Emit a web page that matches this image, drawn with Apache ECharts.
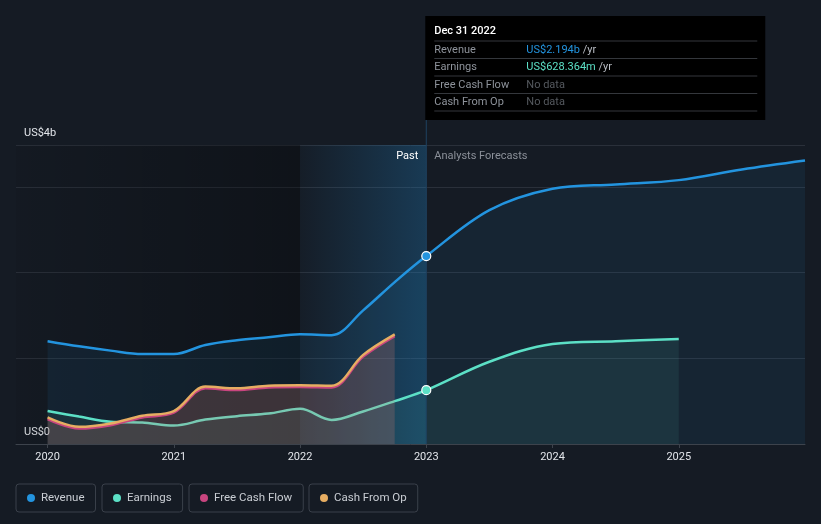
<!DOCTYPE html>
<html><head><meta charset="utf-8">
<script src="https://cdn.jsdelivr.net/npm/echarts@6/dist/echarts.min.js"></script>
<style>html,body{margin:0;padding:0;background:#151b24;}#c{width:821px;height:524px;}</style>
</head><body><div id="c"></div>
<script>
// ---- data (values in US$ billions, x in fractional years) ----
const pastYears = [2020, 2020.25, 2020.5, 2020.75, 2021, 2021.25, 2021.5, 2021.75, 2022, 2022.25, 2022.5, 2022.75, 2023];
const revenuePast = [1.20, 1.14, 1.09, 1.05, 1.05, 1.155, 1.21, 1.245, 1.28, 1.27, 1.56, 1.89, 2.194];
const earningsPast = [0.385, 0.32, 0.26, 0.25, 0.215, 0.285, 0.325, 0.355, 0.41, 0.28, 0.38, 0.50, 0.628];
const cashYears = [2020, 2020.25, 2020.5, 2020.75, 2021, 2021.25, 2021.5, 2021.75, 2022, 2022.25, 2022.5, 2022.75];
const cashFromOp = [0.31, 0.20, 0.24, 0.33, 0.385, 0.67, 0.65, 0.68, 0.685, 0.68, 1.04, 1.28];
const freeCashFlow = [0.29, 0.18, 0.22, 0.31, 0.365, 0.65, 0.63, 0.66, 0.665, 0.66, 1.02, 1.26];
const revForecastYears = [2023.5, 2024, 2024.5, 2025, 2025.5, 2026];
const revenueForecast = [2.73, 2.98, 3.03, 3.08, 3.205, 3.31];
const earnForecastYears = [2023.5, 2024, 2024.5, 2025];
const earningsForecast = [0.96, 1.167, 1.20, 1.225];
const xTickYears = [2020, 2021, 2022, 2023, 2024, 2025];
const nowYear = 2023;
const pastStart = 2022;
const xMin = 2019.75, xMax = 2026;
const yMax = 3.49;
const yTopLabel = 'US$4b', yZeroLabel = 'US$0';
const legendNames = ['Revenue', 'Earnings', 'Free Cash Flow', 'Cash From Op'];
const tooltipTitle = 'Dec 31 2022';
const tooltipRows = [
  ['Revenue', 'US$2.194b', ' /yr'],
  ['Earnings', 'US$628.364m', ' /yr'],
  ['Free Cash Flow', 'No data', ''],
  ['Cash From Op', 'No data', '']
];

const C = { rev: '#2394df', earn: '#5ce0c6', fcf: '#c8457f', cfo: '#e6ad62' };
const zip = (xs, ys) => xs.map((x, i) => [x, ys[i]]);
const revenueData = zip(pastYears, revenuePast).concat(zip(revForecastYears, revenueForecast));
const earningsData = zip(pastYears, earningsPast).concat(zip(earnForecastYears, earningsForecast));
const nowIdx = pastYears.indexOf(nowYear);

const chart = echarts.init(document.getElementById('c'), null, { renderer: 'canvas' });
const font = 'Roboto, "Noto Sans", sans-serif';

function legendBox(name, left) {
  return {
    data: [name], left: left, top: 484, orient: 'horizontal',
    icon: 'circle', itemWidth: 8, itemHeight: 8, itemGap: 0,
    padding: [8, 11, 8, 11], borderColor: '#3a404a', borderWidth: 1, borderRadius: 3,
    textStyle: { color: '#c9cdd3', fontSize: 11.5, fontFamily: font, lineHeight: 11, padding: [0, 0, 0, 1] },
    selectedMode: false
  };
}

const option = {
  backgroundColor: '#151b24',
  animation: false,
  textStyle: { fontFamily: font },
  grid: { left: 16, right: 16, top: 145, bottom: 80, containLabel: false },
  legend: [
    legendBox(legendNames[0], 16),
    legendBox(legendNames[1], 102),
    legendBox(legendNames[2], 189),
    legendBox(legendNames[3], 309)
  ],
  xAxis: {
    type: 'value', min: xMin, max: xMax,
    axisLine: { show: true, lineStyle: { color: '#3d434c', width: 1 } },
    axisTick: { show: true, length: 4, lineStyle: { color: '#3d434c' }, customValues: xTickYears },
    axisLabel: { color: '#e2e5ea', fontSize: 11, margin: 8, customValues: xTickYears, formatter: v => String(Math.round(v)) },
    splitLine: { show: false }
  },
  yAxis: {
    type: 'value', min: 0, max: yMax, interval: 1,
    axisLine: { show: false }, axisTick: { show: false },
    splitLine: { show: true, lineStyle: { color: '#2a303a', width: 1 } },
    axisLabel: {
      inside: true, showMaxLabel: true, showMinLabel: true, margin: 8,
      color: '#e2e5ea', fontSize: 11, verticalAlign: 'bottom', padding: [0, 0, 6, 0],
      formatter: v => (v === 0 ? yZeroLabel : (Math.abs(v - yMax) < 1e-6 ? yTopLabel : ''))
    }
  },
  series: [
    {
      name: 'bg', type: 'line', data: [], silent: true,
      markArea: {
        silent: true,
        data: [
          [{ xAxis: xMin, itemStyle: { color: { type: 'linear', x: 0, y: 0, x2: 1, y2: 0, colorStops: [
              { offset: 0, color: 'rgba(0,0,0,0.06)' }, { offset: 1, color: 'rgba(0,0,0,0.30)' }] } } },
           { xAxis: pastStart }],
          [{ xAxis: pastStart, itemStyle: { color: { type: 'linear', x: 0, y: 0, x2: 1, y2: 0, colorStops: [
              { offset: 0, color: 'rgba(35,148,223,0.02)' }, { offset: 1, color: 'rgba(35,148,223,0.26)' }] } } },
           { xAxis: nowYear }]
        ]
      }
    },
    {
      name: 'Revenue', type: 'line', data: revenueData, smooth: 0.35, showSymbol: false,
      lineStyle: { color: C.rev, width: 2.5 }, itemStyle: { color: C.rev },
      areaStyle: { color: 'rgba(35,148,223,0.12)' }, z: 3
    },
    {
      name: 'Earnings', type: 'line', data: earningsData, smooth: 0.35, showSymbol: false,
      lineStyle: { color: C.earn, width: 2.5 }, itemStyle: { color: C.earn },
      areaStyle: { color: 'rgba(92,224,198,0.12)' }, z: 3
    },
    {
      name: 'Free Cash Flow', type: 'line', data: zip(cashYears, freeCashFlow), smooth: 0.35, showSymbol: false,
      lineStyle: { color: C.fcf, width: 2.5 }, itemStyle: { color: C.fcf },
      areaStyle: { color: 'rgba(200,69,127,0.18)' }, z: 4
    },
    {
      name: 'Cash From Op', type: 'line', data: zip(cashYears, cashFromOp), smooth: 0.35, showSymbol: false,
      lineStyle: { color: C.cfo, width: 2.5 }, itemStyle: { color: C.cfo },
      areaStyle: { color: 'rgba(230,173,98,0.16)' }, z: 4
    },
    {
      name: 'nowPoints', type: 'scatter', z: 6, silent: true,
      data: [
        { value: [nowYear, revenuePast[nowIdx]], itemStyle: { color: C.rev } },
        { value: [nowYear, earningsPast[nowIdx]], itemStyle: { color: C.earn } }
      ],
      symbol: 'circle', symbolSize: 9,
      itemStyle: { borderColor: '#ffffff', borderWidth: 1.2, opacity: 1 }
    }
  ]
};
chart.setOption(option);

// overlays positioned through the chart's own scales
const xNow = chart.convertToPixel({ xAxisIndex: 0 }, nowYear);
const yTop = chart.convertToPixel({ yAxisIndex: 0 }, yMax);
const yZero = chart.convertToPixel({ yAxisIndex: 0 }, 0);
const tipLeft = xNow - 1, tipTop = 16, tipW = 340, tipH = 104;
const g = [];
g.push({ type: 'line', shape: { x1: xNow, y1: tipTop + tipH, x2: xNow, y2: yZero }, style: { stroke: '#1f4261', lineWidth: 1 }, z: 5 });
g.push({ type: 'text', x: xNow - 8, y: yTop + 11, style: { text: 'Past', fill: '#ffffff', font: '11px ' + font, align: 'right', verticalAlign: 'middle' }, z: 10 });
g.push({ type: 'text', x: xNow + 8, y: yTop + 11, style: { text: 'Analysts Forecasts', fill: '#8b9099', font: '11px ' + font, align: 'left', verticalAlign: 'middle' }, z: 10 });
g.push({ type: 'rect', shape: { x: tipLeft, y: tipTop, width: tipW, height: tipH }, style: { fill: '#000000' }, z: 20 });
g.push({ type: 'text', x: tipLeft + 9, y: tipTop + 15, style: { text: tooltipTitle, fill: '#ffffff', font: '500 11px ' + font, verticalAlign: 'middle' }, z: 21 });
const rowLines = [41, 58.5, 76, 93.5, 111];
rowLines.forEach(y => g.push({ type: 'line', shape: { x1: tipLeft + 9, y1: y, x2: tipLeft + 332, y2: y }, style: { stroke: '#34373c', lineWidth: 1 }, z: 21 }));
const valColors = [C.rev, C.earn, '#55595f', '#55595f'];
tooltipRows.forEach((r, i) => {
  const y = (rowLines[i] + rowLines[i + 1]) / 2;
  g.push({ type: 'text', x: tipLeft + 9, y: y, style: { text: r[0], fill: '#8e939b', font: '11px ' + font, verticalAlign: 'middle' }, z: 22 });
  g.push({ type: 'text', x: tipLeft + 101, y: y, style: {
    text: '{v|' + r[1] + '}' + (r[2] ? '{u|' + r[2] + '}' : ''),
    rich: { v: { fill: valColors[i], font: '11px ' + font }, u: { fill: '#b9bdc4', font: '11px ' + font } },
    verticalAlign: 'middle' }, z: 22 });
});
chart.setOption({ graphic: g });
</script></body></html>
